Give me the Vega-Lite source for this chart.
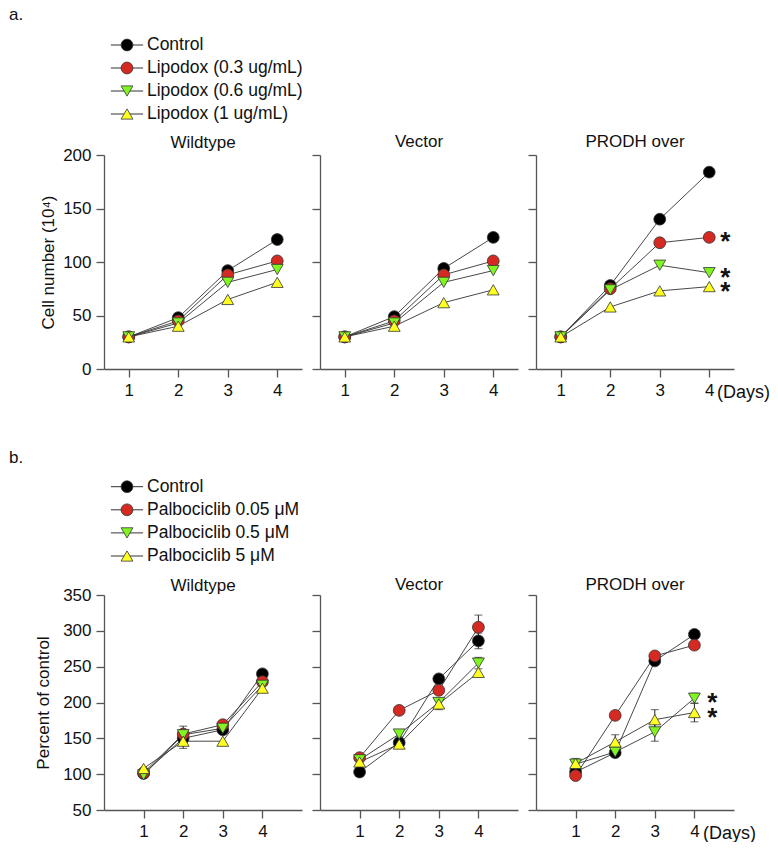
{
  "$schema": "https://vega.github.io/schema/vega-lite/v6.json",
  "background": "white",
  "padding": {"left": 9, "top": 6, "right": 0, "bottom": 0},
  "config": {
    "font": "Liberation Sans",
    "view": {"stroke": null},
    "axis": {"grid": false, "domainColor": "#555555", "domainWidth": 1.3, "tickColor": "#555555", "tickWidth": 1.3, "tickSize": 8, "labelFontSize": 17, "labelColor": "#111111", "labelPadding": 5, "titleFontSize": 17, "titleFontWeight": "normal", "titleColor": "#111111", "labelFont": "Liberation Sans", "titleFont": "Liberation Sans"},
    "title": {"fontSize": 17, "fontWeight": "normal", "font": "Liberation Sans", "color": "#111111"}
  },
  "datasets": {
    "legTop": [{"series": "Control"}, {"series": "Lipodox (0.3 ug/mL)"}, {"series": "Lipodox (0.6 ug/mL)"}, {"series": "Lipodox (1 ug/mL)"}],
    "legBottom": [{"series": "Control"}, {"series": "Palbociclib 0.05 μM"}, {"series": "Palbociclib 0.5 μM"}, {"series": "Palbociclib 5 μM"}],
    "top": [
      {"panel": "Wildtype", "series": "Control", "day": 1, "value": 30},
      {"panel": "Wildtype", "series": "Control", "day": 2, "value": 48},
      {"panel": "Wildtype", "series": "Control", "day": 3, "value": 92},
      {"panel": "Wildtype", "series": "Control", "day": 4, "value": 121},
      {"panel": "Wildtype", "series": "Lipodox (0.3 ug/mL)", "day": 1, "value": 30},
      {"panel": "Wildtype", "series": "Lipodox (0.3 ug/mL)", "day": 2, "value": 45},
      {"panel": "Wildtype", "series": "Lipodox (0.3 ug/mL)", "day": 3, "value": 88},
      {"panel": "Wildtype", "series": "Lipodox (0.3 ug/mL)", "day": 4, "value": 101},
      {"panel": "Wildtype", "series": "Lipodox (0.6 ug/mL)", "day": 1, "value": 30},
      {"panel": "Wildtype", "series": "Lipodox (0.6 ug/mL)", "day": 2, "value": 43},
      {"panel": "Wildtype", "series": "Lipodox (0.6 ug/mL)", "day": 3, "value": 81},
      {"panel": "Wildtype", "series": "Lipodox (0.6 ug/mL)", "day": 4, "value": 93},
      {"panel": "Wildtype", "series": "Lipodox (1 ug/mL)", "day": 1, "value": 30},
      {"panel": "Wildtype", "series": "Lipodox (1 ug/mL)", "day": 2, "value": 40},
      {"panel": "Wildtype", "series": "Lipodox (1 ug/mL)", "day": 3, "value": 65},
      {"panel": "Wildtype", "series": "Lipodox (1 ug/mL)", "day": 4, "value": 81},
      {"panel": "Vector", "series": "Control", "day": 1, "value": 30},
      {"panel": "Vector", "series": "Control", "day": 2, "value": 49},
      {"panel": "Vector", "series": "Control", "day": 3, "value": 94},
      {"panel": "Vector", "series": "Control", "day": 4, "value": 123},
      {"panel": "Vector", "series": "Lipodox (0.3 ug/mL)", "day": 1, "value": 30},
      {"panel": "Vector", "series": "Lipodox (0.3 ug/mL)", "day": 2, "value": 45},
      {"panel": "Vector", "series": "Lipodox (0.3 ug/mL)", "day": 3, "value": 88},
      {"panel": "Vector", "series": "Lipodox (0.3 ug/mL)", "day": 4, "value": 101},
      {"panel": "Vector", "series": "Lipodox (0.6 ug/mL)", "day": 1, "value": 30},
      {"panel": "Vector", "series": "Lipodox (0.6 ug/mL)", "day": 2, "value": 43},
      {"panel": "Vector", "series": "Lipodox (0.6 ug/mL)", "day": 3, "value": 81},
      {"panel": "Vector", "series": "Lipodox (0.6 ug/mL)", "day": 4, "value": 92},
      {"panel": "Vector", "series": "Lipodox (1 ug/mL)", "day": 1, "value": 30},
      {"panel": "Vector", "series": "Lipodox (1 ug/mL)", "day": 2, "value": 40},
      {"panel": "Vector", "series": "Lipodox (1 ug/mL)", "day": 3, "value": 62},
      {"panel": "Vector", "series": "Lipodox (1 ug/mL)", "day": 4, "value": 74},
      {"panel": "PRODH over", "series": "Control", "day": 1, "value": 30},
      {"panel": "PRODH over", "series": "Control", "day": 2, "value": 78},
      {"panel": "PRODH over", "series": "Control", "day": 3, "value": 140},
      {"panel": "PRODH over", "series": "Control", "day": 4, "value": 184},
      {"panel": "PRODH over", "series": "Lipodox (0.3 ug/mL)", "day": 1, "value": 30},
      {"panel": "PRODH over", "series": "Lipodox (0.3 ug/mL)", "day": 2, "value": 75},
      {"panel": "PRODH over", "series": "Lipodox (0.3 ug/mL)", "day": 3, "value": 118},
      {"panel": "PRODH over", "series": "Lipodox (0.3 ug/mL)", "day": 4, "value": 123, "sig": "*"},
      {"panel": "PRODH over", "series": "Lipodox (0.6 ug/mL)", "day": 1, "value": 30},
      {"panel": "PRODH over", "series": "Lipodox (0.6 ug/mL)", "day": 2, "value": 74},
      {"panel": "PRODH over", "series": "Lipodox (0.6 ug/mL)", "day": 3, "value": 97},
      {"panel": "PRODH over", "series": "Lipodox (0.6 ug/mL)", "day": 4, "value": 90, "sig": "*"},
      {"panel": "PRODH over", "series": "Lipodox (1 ug/mL)", "day": 1, "value": 30},
      {"panel": "PRODH over", "series": "Lipodox (1 ug/mL)", "day": 2, "value": 58},
      {"panel": "PRODH over", "series": "Lipodox (1 ug/mL)", "day": 3, "value": 73},
      {"panel": "PRODH over", "series": "Lipodox (1 ug/mL)", "day": 4, "value": 77, "sig": "*"}
    ],
    "bottom": [
      {"panel": "Wildtype", "series": "Control", "day": 1, "value": 101},
      {"panel": "Wildtype", "series": "Control", "day": 2, "value": 150},
      {"panel": "Wildtype", "series": "Control", "day": 3, "value": 162},
      {"panel": "Wildtype", "series": "Control", "day": 4, "value": 240},
      {"panel": "Wildtype", "series": "Palbociclib 0.05 μM", "day": 1, "value": 102},
      {"panel": "Wildtype", "series": "Palbociclib 0.05 μM", "day": 2, "value": 156},
      {"panel": "Wildtype", "series": "Palbociclib 0.05 μM", "day": 3, "value": 169},
      {"panel": "Wildtype", "series": "Palbociclib 0.05 μM", "day": 4, "value": 229},
      {"panel": "Wildtype", "series": "Palbociclib 0.5 μM", "day": 1, "value": 99},
      {"panel": "Wildtype", "series": "Palbociclib 0.5 μM", "day": 2, "value": 155, "err": 12},
      {"panel": "Wildtype", "series": "Palbociclib 0.5 μM", "day": 3, "value": 164},
      {"panel": "Wildtype", "series": "Palbociclib 0.5 μM", "day": 4, "value": 224},
      {"panel": "Wildtype", "series": "Palbociclib 5 μM", "day": 1, "value": 108},
      {"panel": "Wildtype", "series": "Palbociclib 5 μM", "day": 2, "value": 146, "err": 10},
      {"panel": "Wildtype", "series": "Palbociclib 5 μM", "day": 3, "value": 146},
      {"panel": "Wildtype", "series": "Palbociclib 5 μM", "day": 4, "value": 220},
      {"panel": "Vector", "series": "Control", "day": 1, "value": 103},
      {"panel": "Vector", "series": "Control", "day": 2, "value": 144, "err": 8},
      {"panel": "Vector", "series": "Control", "day": 3, "value": 233},
      {"panel": "Vector", "series": "Control", "day": 4, "value": 286, "err": 11},
      {"panel": "Vector", "series": "Palbociclib 0.05 μM", "day": 1, "value": 123},
      {"panel": "Vector", "series": "Palbociclib 0.05 μM", "day": 2, "value": 189},
      {"panel": "Vector", "series": "Palbociclib 0.05 μM", "day": 3, "value": 217},
      {"panel": "Vector", "series": "Palbociclib 0.05 μM", "day": 4, "value": 305, "err": 17},
      {"panel": "Vector", "series": "Palbociclib 0.5 μM", "day": 1, "value": 120},
      {"panel": "Vector", "series": "Palbociclib 0.5 μM", "day": 2, "value": 156},
      {"panel": "Vector", "series": "Palbociclib 0.5 μM", "day": 3, "value": 200},
      {"panel": "Vector", "series": "Palbociclib 0.5 μM", "day": 4, "value": 255, "err": 8},
      {"panel": "Vector", "series": "Palbociclib 5 μM", "day": 1, "value": 117},
      {"panel": "Vector", "series": "Palbociclib 5 μM", "day": 2, "value": 142},
      {"panel": "Vector", "series": "Palbociclib 5 μM", "day": 3, "value": 198, "err": 8},
      {"panel": "Vector", "series": "Palbociclib 5 μM", "day": 4, "value": 242},
      {"panel": "PRODH over", "series": "Control", "day": 1, "value": 103},
      {"panel": "PRODH over", "series": "Control", "day": 2, "value": 130},
      {"panel": "PRODH over", "series": "Control", "day": 3, "value": 258},
      {"panel": "PRODH over", "series": "Control", "day": 4, "value": 295},
      {"panel": "PRODH over", "series": "Palbociclib 0.05 μM", "day": 1, "value": 98},
      {"panel": "PRODH over", "series": "Palbociclib 0.05 μM", "day": 2, "value": 182},
      {"panel": "PRODH over", "series": "Palbociclib 0.05 μM", "day": 3, "value": 265},
      {"panel": "PRODH over", "series": "Palbociclib 0.05 μM", "day": 4, "value": 280},
      {"panel": "PRODH over", "series": "Palbociclib 0.5 μM", "day": 1, "value": 114, "err": 8},
      {"panel": "PRODH over", "series": "Palbociclib 0.5 μM", "day": 2, "value": 131},
      {"panel": "PRODH over", "series": "Palbociclib 0.5 μM", "day": 3, "value": 159, "err": 13},
      {"panel": "PRODH over", "series": "Palbociclib 0.5 μM", "day": 4, "value": 206, "err": 7, "sig": "*"},
      {"panel": "PRODH over", "series": "Palbociclib 5 μM", "day": 1, "value": 115},
      {"panel": "PRODH over", "series": "Palbociclib 5 μM", "day": 2, "value": 145, "err": 10},
      {"panel": "PRODH over", "series": "Palbociclib 5 μM", "day": 3, "value": 176, "err": 14},
      {"panel": "PRODH over", "series": "Palbociclib 5 μM", "day": 4, "value": 186, "err": 13, "sig": "*"}
    ]
  },
  "columns": 3,
  "bounds": "flush",
  "spacing": {"row": 0, "column": 18},
  "concat": [
    {
      "width": 46, "height": 135,
      "title": {"text": "a.", "anchor": "start", "frame": "group", "dx": -95, "dy": 17, "offset": 0, "baseline": "alphabetic", "fontSize": 17},
      "data": {"name": "legTop"},
      "encoding": {"y": {"field": "series", "type": "nominal", "sort": null, "axis": null, "scale": {"type": "point", "range": [25, 94], "padding": 0}}},
      "layer": [
        {"mark": {"type": "rule", "color": "#333333", "strokeWidth": 1}, "encoding": {"x": {"datum": 0.15, "type": "quantitative", "scale": {"domain": [0, 1], "nice": false, "zero": false}, "axis": null}, "x2": {"datum": 0.85}}},
        {"mark": {"type": "point", "filled": true, "size": 140, "stroke": "#333333", "strokeWidth": 0.8, "opacity": 1},
         "encoding": {"x": {"datum": 0.5, "type": "quantitative"},
          "fill": {"field": "series", "type": "nominal", "legend": null, "scale": {"domain": ["Control", "Lipodox (0.3 ug/mL)", "Lipodox (0.6 ug/mL)", "Lipodox (1 ug/mL)", "Palbociclib 0.05 μM", "Palbociclib 0.5 μM", "Palbociclib 5 μM"], "range": ["#000000", "#d42a22", "#80f522", "#ffff22", "#d42a22", "#80f522", "#ffff22"]}},
          "shape": {"field": "series", "type": "nominal", "legend": null, "scale": {"domain": ["Control", "Lipodox (0.3 ug/mL)", "Lipodox (0.6 ug/mL)", "Lipodox (1 ug/mL)", "Palbociclib 0.05 μM", "Palbociclib 0.5 μM", "Palbociclib 5 μM"], "range": ["circle", "circle", "triangle-down", "triangle-up", "circle", "triangle-down", "triangle-up"]}}}},
        {"mark": {"type": "text", "align": "left", "baseline": "middle", "fontSize": 17.5, "dx": -3, "color": "#111111"}, "encoding": {"x": {"datum": 1, "type": "quantitative"}, "text": {"field": "series"}}}
      ]
    },
    {"width": 198, "height": 1, "data": {"values": [{"a": 1}]}, "mark": {"type": "point", "opacity": 0}},
    {"width": 198, "height": 1, "data": {"values": [{"a": 1}]}, "mark": {"type": "point", "opacity": 0}},
    {
      "width": 198, "height": 214,
      "title": {"text": "Wildtype", "offset": 8, "dy": 27, "baseline": "alphabetic"},
      "data": {"name": "top"},
      "transform": [{"filter": "datum.panel == 'Wildtype'"}],
      "encoding": {
        "x": {"field": "day", "type": "quantitative", "scale": {"domain": [0.5, 4.5], "nice": false, "zero": false}, "axis": {"values": [1, 2, 3, 4], "title": null}},
        "y": {"field": "value", "type": "quantitative", "scale": {"domain": [0, 200], "nice": false}, "axis": {"values": [0, 50, 100, 150, 200], "title": "Cell number (10⁴)", "titlePadding": 5}}
      },
      "layer": [
        {"mark": {"type": "line", "color": "#333333", "strokeWidth": 0.9}, "encoding": {"detail": {"field": "series"}}},
        {"mark": {"type": "point", "filled": true, "size": 140, "stroke": "#333333", "strokeWidth": 0.8, "opacity": 1},
         "encoding": {
          "fill": {"field": "series", "type": "nominal", "legend": null, "scale": {"domain": ["Control", "Lipodox (0.3 ug/mL)", "Lipodox (0.6 ug/mL)", "Lipodox (1 ug/mL)", "Palbociclib 0.05 μM", "Palbociclib 0.5 μM", "Palbociclib 5 μM"], "range": ["#000000", "#d42a22", "#80f522", "#ffff22", "#d42a22", "#80f522", "#ffff22"]}},
          "shape": {"field": "series", "type": "nominal", "legend": null, "scale": {"domain": ["Control", "Lipodox (0.3 ug/mL)", "Lipodox (0.6 ug/mL)", "Lipodox (1 ug/mL)", "Palbociclib 0.05 μM", "Palbociclib 0.5 μM", "Palbociclib 5 μM"], "range": ["circle", "circle", "triangle-down", "triangle-up", "circle", "triangle-down", "triangle-up"]}}}}
      ]
    },
    {
      "width": 198, "height": 214,
      "title": {"text": "Vector", "offset": 8, "dy": 18, "baseline": "alphabetic"},
      "data": {"name": "top"},
      "transform": [{"filter": "datum.panel == 'Vector'"}],
      "encoding": {
        "x": {"field": "day", "type": "quantitative", "scale": {"domain": [0.5, 4.5], "nice": false, "zero": false}, "axis": {"values": [1, 2, 3, 4], "title": null}},
        "y": {"field": "value", "type": "quantitative", "scale": {"domain": [0, 200], "nice": false}, "axis": {"values": [0, 50, 100, 150, 200], "title": null, "labels": false}}
      },
      "layer": [
        {"mark": {"type": "line", "color": "#333333", "strokeWidth": 0.9}, "encoding": {"detail": {"field": "series"}}},
        {"mark": {"type": "point", "filled": true, "size": 140, "stroke": "#333333", "strokeWidth": 0.8, "opacity": 1},
         "encoding": {
          "fill": {"field": "series", "type": "nominal", "legend": null, "scale": {"domain": ["Control", "Lipodox (0.3 ug/mL)", "Lipodox (0.6 ug/mL)", "Lipodox (1 ug/mL)", "Palbociclib 0.05 μM", "Palbociclib 0.5 μM", "Palbociclib 5 μM"], "range": ["#000000", "#d42a22", "#80f522", "#ffff22", "#d42a22", "#80f522", "#ffff22"]}},
          "shape": {"field": "series", "type": "nominal", "legend": null, "scale": {"domain": ["Control", "Lipodox (0.3 ug/mL)", "Lipodox (0.6 ug/mL)", "Lipodox (1 ug/mL)", "Palbociclib 0.05 μM", "Palbociclib 0.5 μM", "Palbociclib 5 μM"], "range": ["circle", "circle", "triangle-down", "triangle-up", "circle", "triangle-down", "triangle-up"]}}}}
      ]
    },
    {
      "width": 198, "height": 214,
      "title": {"text": "PRODH over", "offset": 8, "dy": 18, "baseline": "alphabetic"},
      "data": {"name": "top"},
      "transform": [{"filter": "datum.panel == 'PRODH over'"}],
      "encoding": {
        "x": {"field": "day", "type": "quantitative", "scale": {"domain": [0.5, 4.5], "nice": false, "zero": false}, "axis": {"values": [1, 2, 3, 4], "title": "(Days)", "titleX": 207, "titleY": 23, "titleAlign": "center", "titleBaseline": "middle", "titleFontSize": 18}},
        "y": {"field": "value", "type": "quantitative", "scale": {"domain": [0, 200], "nice": false}, "axis": {"values": [0, 50, 100, 150, 200], "title": null, "labels": false}}
      },
      "layer": [
        {"mark": {"type": "line", "color": "#333333", "strokeWidth": 0.9}, "encoding": {"detail": {"field": "series"}}},
        {"mark": {"type": "point", "filled": true, "size": 140, "stroke": "#333333", "strokeWidth": 0.8, "opacity": 1},
         "encoding": {
          "fill": {"field": "series", "type": "nominal", "legend": null, "scale": {"domain": ["Control", "Lipodox (0.3 ug/mL)", "Lipodox (0.6 ug/mL)", "Lipodox (1 ug/mL)", "Palbociclib 0.05 μM", "Palbociclib 0.5 μM", "Palbociclib 5 μM"], "range": ["#000000", "#d42a22", "#80f522", "#ffff22", "#d42a22", "#80f522", "#ffff22"]}},
          "shape": {"field": "series", "type": "nominal", "legend": null, "scale": {"domain": ["Control", "Lipodox (0.3 ug/mL)", "Lipodox (0.6 ug/mL)", "Lipodox (1 ug/mL)", "Palbociclib 0.05 μM", "Palbociclib 0.5 μM", "Palbociclib 5 μM"], "range": ["circle", "circle", "triangle-down", "triangle-up", "circle", "triangle-down", "triangle-up"]}}}},
        {"transform": [{"filter": "datum.sig == '*'"}], "mark": {"type": "text", "fontSize": 26, "fontWeight": "bold", "dx": 16, "dy": 13, "baseline": "alphabetic", "align": "center", "color": "#111111"}, "encoding": {"text": {"field": "sig"}}}
      ]
    },
    {
      "width": 46, "height": 226,
      "title": {"text": "b.", "anchor": "start", "frame": "group", "dx": -95, "dy": 111, "offset": 0, "baseline": "alphabetic", "fontSize": 17},
      "data": {"name": "legBottom"},
      "encoding": {"y": {"field": "series", "type": "nominal", "sort": null, "axis": null, "scale": {"type": "point", "range": [117.7, 187], "padding": 0}}},
      "layer": [
        {"mark": {"type": "rule", "color": "#333333", "strokeWidth": 1}, "encoding": {"x": {"datum": 0.15, "type": "quantitative", "scale": {"domain": [0, 1], "nice": false, "zero": false}, "axis": null}, "x2": {"datum": 0.85}}},
        {"mark": {"type": "point", "filled": true, "size": 140, "stroke": "#333333", "strokeWidth": 0.8, "opacity": 1},
         "encoding": {"x": {"datum": 0.5, "type": "quantitative"},
          "fill": {"field": "series", "type": "nominal", "legend": null, "scale": {"domain": ["Control", "Lipodox (0.3 ug/mL)", "Lipodox (0.6 ug/mL)", "Lipodox (1 ug/mL)", "Palbociclib 0.05 μM", "Palbociclib 0.5 μM", "Palbociclib 5 μM"], "range": ["#000000", "#d42a22", "#80f522", "#ffff22", "#d42a22", "#80f522", "#ffff22"]}},
          "shape": {"field": "series", "type": "nominal", "legend": null, "scale": {"domain": ["Control", "Lipodox (0.3 ug/mL)", "Lipodox (0.6 ug/mL)", "Lipodox (1 ug/mL)", "Palbociclib 0.05 μM", "Palbociclib 0.5 μM", "Palbociclib 5 μM"], "range": ["circle", "circle", "triangle-down", "triangle-up", "circle", "triangle-down", "triangle-up"]}}}},
        {"mark": {"type": "text", "align": "left", "baseline": "middle", "fontSize": 17.5, "dx": -3, "color": "#111111"}, "encoding": {"x": {"datum": 1, "type": "quantitative"}, "text": {"field": "series"}}}
      ]
    },
    {"width": 198, "height": 1, "data": {"values": [{"a": 1}]}, "mark": {"type": "point", "opacity": 0}},
    {"width": 198, "height": 1, "data": {"values": [{"a": 1}]}, "mark": {"type": "point", "opacity": 0}},
    {
      "width": 198, "height": 215,
      "title": {"text": "Wildtype", "offset": 6, "dy": 28, "baseline": "alphabetic"},
      "data": {"name": "bottom"},
      "transform": [{"filter": "datum.panel == 'Wildtype'"}],
      "encoding": {
        "x": {"field": "day", "type": "quantitative", "scale": {"domain": [0, 5], "nice": false, "zero": false}, "axis": {"values": [1, 2, 3, 4], "title": null}},
        "y": {"field": "value", "type": "quantitative", "scale": {"domain": [50, 350], "nice": false, "zero": false}, "axis": {"values": [50, 100, 150, 200, 250, 300, 350], "title": "Percent of control", "titlePadding": 10}}
      },
      "layer": [
        {"mark": {"type": "line", "color": "#333333", "strokeWidth": 0.9}, "encoding": {"detail": {"field": "series"}}},
        {"transform": [{"filter": "datum.err > 0"}], "mark": {"type": "errorbar", "color": "#222222", "thickness": 1, "ticks": {"size": 8}}, "encoding": {"yError": {"field": "err"}}},
        {"mark": {"type": "point", "filled": true, "size": 140, "stroke": "#333333", "strokeWidth": 0.8, "opacity": 1},
         "encoding": {
          "fill": {"field": "series", "type": "nominal", "legend": null, "scale": {"domain": ["Control", "Lipodox (0.3 ug/mL)", "Lipodox (0.6 ug/mL)", "Lipodox (1 ug/mL)", "Palbociclib 0.05 μM", "Palbociclib 0.5 μM", "Palbociclib 5 μM"], "range": ["#000000", "#d42a22", "#80f522", "#ffff22", "#d42a22", "#80f522", "#ffff22"]}},
          "shape": {"field": "series", "type": "nominal", "legend": null, "scale": {"domain": ["Control", "Lipodox (0.3 ug/mL)", "Lipodox (0.6 ug/mL)", "Lipodox (1 ug/mL)", "Palbociclib 0.05 μM", "Palbociclib 0.5 μM", "Palbociclib 5 μM"], "range": ["circle", "circle", "triangle-down", "triangle-up", "circle", "triangle-down", "triangle-up"]}}}}
      ]
    },
    {
      "width": 198, "height": 215,
      "title": {"text": "Vector", "offset": 6, "dy": 19, "baseline": "alphabetic"},
      "data": {"name": "bottom"},
      "transform": [{"filter": "datum.panel == 'Vector'"}],
      "encoding": {
        "x": {"field": "day", "type": "quantitative", "scale": {"domain": [0, 5], "nice": false, "zero": false}, "axis": {"values": [1, 2, 3, 4], "title": null}},
        "y": {"field": "value", "type": "quantitative", "scale": {"domain": [50, 350], "nice": false, "zero": false}, "axis": {"values": [50, 100, 150, 200, 250, 300, 350], "title": null, "labels": false}}
      },
      "layer": [
        {"mark": {"type": "line", "color": "#333333", "strokeWidth": 0.9}, "encoding": {"detail": {"field": "series"}}},
        {"transform": [{"filter": "datum.err > 0"}], "mark": {"type": "errorbar", "color": "#222222", "thickness": 1, "ticks": {"size": 8}}, "encoding": {"yError": {"field": "err"}}},
        {"mark": {"type": "point", "filled": true, "size": 140, "stroke": "#333333", "strokeWidth": 0.8, "opacity": 1},
         "encoding": {
          "fill": {"field": "series", "type": "nominal", "legend": null, "scale": {"domain": ["Control", "Lipodox (0.3 ug/mL)", "Lipodox (0.6 ug/mL)", "Lipodox (1 ug/mL)", "Palbociclib 0.05 μM", "Palbociclib 0.5 μM", "Palbociclib 5 μM"], "range": ["#000000", "#d42a22", "#80f522", "#ffff22", "#d42a22", "#80f522", "#ffff22"]}},
          "shape": {"field": "series", "type": "nominal", "legend": null, "scale": {"domain": ["Control", "Lipodox (0.3 ug/mL)", "Lipodox (0.6 ug/mL)", "Lipodox (1 ug/mL)", "Palbociclib 0.05 μM", "Palbociclib 0.5 μM", "Palbociclib 5 μM"], "range": ["circle", "circle", "triangle-down", "triangle-up", "circle", "triangle-down", "triangle-up"]}}}}
      ]
    },
    {
      "width": 198, "height": 215,
      "title": {"text": "PRODH over", "offset": 6, "dy": 19, "baseline": "alphabetic"},
      "data": {"name": "bottom"},
      "transform": [{"filter": "datum.panel == 'PRODH over'"}],
      "encoding": {
        "x": {"field": "day", "type": "quantitative", "scale": {"domain": [0, 5], "nice": false, "zero": false}, "axis": {"values": [1, 2, 3, 4], "title": "(Days)", "titleX": 193, "titleY": 23, "titleAlign": "center", "titleBaseline": "middle", "titleFontSize": 18}},
        "y": {"field": "value", "type": "quantitative", "scale": {"domain": [50, 350], "nice": false, "zero": false}, "axis": {"values": [50, 100, 150, 200, 250, 300, 350], "title": null, "labels": false}}
      },
      "layer": [
        {"mark": {"type": "line", "color": "#333333", "strokeWidth": 0.9}, "encoding": {"detail": {"field": "series"}}},
        {"transform": [{"filter": "datum.err > 0"}], "mark": {"type": "errorbar", "color": "#222222", "thickness": 1, "ticks": {"size": 8}}, "encoding": {"yError": {"field": "err"}}},
        {"mark": {"type": "point", "filled": true, "size": 140, "stroke": "#333333", "strokeWidth": 0.8, "opacity": 1},
         "encoding": {
          "fill": {"field": "series", "type": "nominal", "legend": null, "scale": {"domain": ["Control", "Lipodox (0.3 ug/mL)", "Lipodox (0.6 ug/mL)", "Lipodox (1 ug/mL)", "Palbociclib 0.05 μM", "Palbociclib 0.5 μM", "Palbociclib 5 μM"], "range": ["#000000", "#d42a22", "#80f522", "#ffff22", "#d42a22", "#80f522", "#ffff22"]}},
          "shape": {"field": "series", "type": "nominal", "legend": null, "scale": {"domain": ["Control", "Lipodox (0.3 ug/mL)", "Lipodox (0.6 ug/mL)", "Lipodox (1 ug/mL)", "Palbociclib 0.05 μM", "Palbociclib 0.5 μM", "Palbociclib 5 μM"], "range": ["circle", "circle", "triangle-down", "triangle-up", "circle", "triangle-down", "triangle-up"]}}}},
        {"transform": [{"filter": "datum.sig == '*'"}], "mark": {"type": "text", "fontSize": 26, "fontWeight": "bold", "dx": 18, "dy": 13, "baseline": "alphabetic", "align": "center", "color": "#111111"}, "encoding": {"text": {"field": "sig"}}}
      ]
    }
  ]
}
